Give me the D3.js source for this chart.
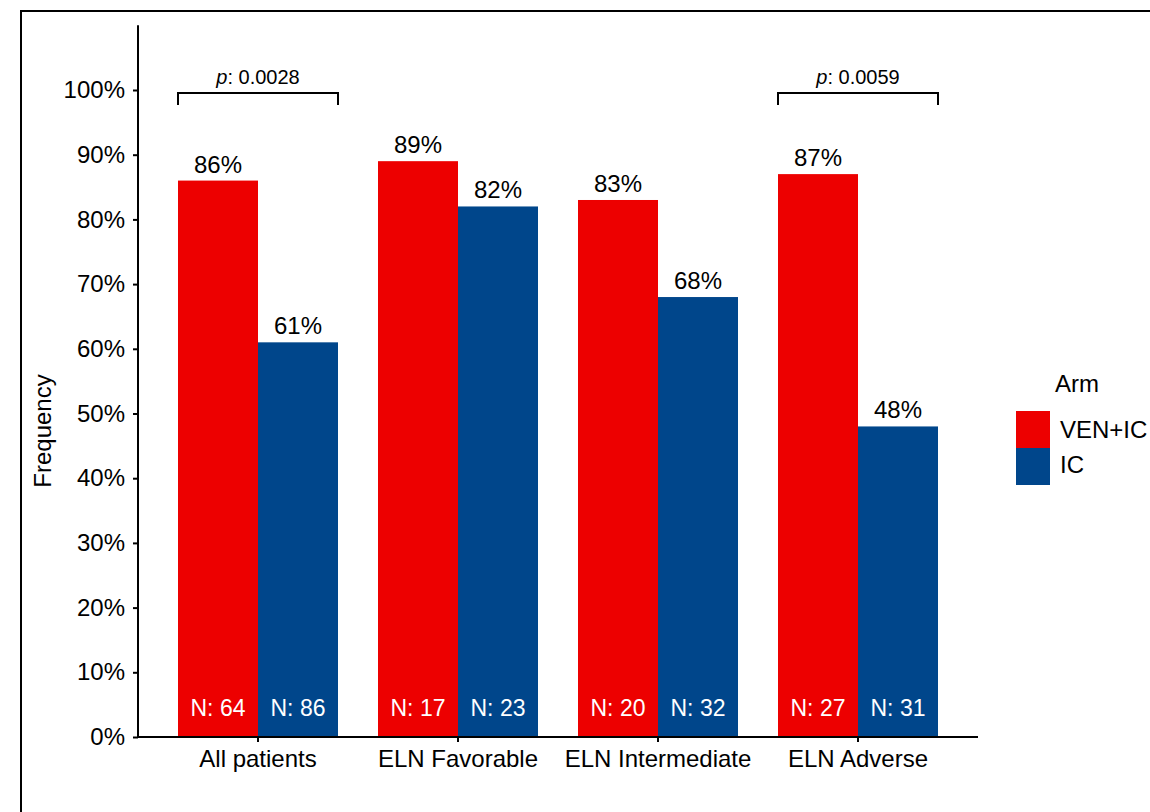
<!DOCTYPE html>
<html><head><meta charset="utf-8">
<script src="https://cdn.jsdelivr.net/npm/d3@7"></script>
<style>
body{margin:0;background:#fff;}
svg text{font-family:"Liberation Sans",Arial,Helvetica,sans-serif;fill:#000;}
</style></head>
<body>
<svg id="chart" width="1150" height="812"></svg>
<script>
const categories = ["All patients","ELN Favorable","ELN Intermediate","ELN Adverse"];
const arms = ["VEN+IC","IC"];
const venValues = [86, 89, 83, 87];
const icValues = [61, 82, 68, 48];
const venN = [64, 17, 20, 27];
const icN = [86, 23, 32, 31];
const yTicks = [0,10,20,30,40,50,60,70,80,90,100];
const pLabels = [{cat:"All patients", p:"0.0028"},{cat:"ELN Adverse", p:"0.0059"}];
const colors = ["#ED0000","#00468B"];

const data = categories.map((c,i)=>[
  {cat:c, arm:arms[0], v:venValues[i], n:venN[i]},
  {cat:c, arm:arms[1], v:icValues[i], n:icN[i]}
]).flat();

const svg = d3.select("#chart");
// frame
svg.append("path").attr("d","M21,812 L21,11 L1150,11").attr("fill","none").attr("stroke","#000").attr("stroke-width",2);

const x0 = 138, x1 = 978, yBottom = 737;
const y = d3.scaleLinear().domain([0,100]).range([yBottom, 90]);
const yTop = y(110);
const xBand = d3.scaleBand().domain(categories).range([x0, x1]).paddingOuter(0.2).paddingInner(0.2);
const xArm = d3.scaleBand().domain(arms).range([0, xBand.bandwidth()]);

// bars
svg.append("g").selectAll("rect").data(data).join("rect")
  .attr("x", d=>xBand(d.cat)+xArm(d.arm))
  .attr("y", d=>y(d.v))
  .attr("width", xArm.bandwidth())
  .attr("height", d=>yBottom - y(d.v))
  .attr("fill", d=>colors[arms.indexOf(d.arm)]);

// value labels
svg.append("g").selectAll("text").data(data).join("text")
  .attr("x", d=>xBand(d.cat)+xArm(d.arm)+xArm.bandwidth()/2)
  .attr("y", d=>y(d.v)-8)
  .attr("text-anchor","middle")
  .style("font-size","24px")
  .text(d=>d.v+"%");

// N labels
svg.append("g").selectAll("text").data(data).join("text")
  .attr("x", d=>xBand(d.cat)+xArm(d.arm)+xArm.bandwidth()/2)
  .attr("y", 716)
  .attr("text-anchor","middle")
  .style("font-size","23px")
  .style("fill","#fff")
  .text(d=>"N: "+d.n);

// y axis
const yAxis = d3.axisLeft(y).tickValues(yTicks).tickFormat(d=>d+"%").tickSize(5).tickPadding(8);
const gy = svg.append("g").attr("transform",`translate(${x0},0)`).call(yAxis);
gy.select(".domain").attr("d",`M0,${yTop}V${yBottom}`).attr("stroke","#000").attr("stroke-width",2);
gy.selectAll(".tick line").attr("stroke","#000").attr("stroke-width",2);
gy.selectAll(".tick text").style("font-size","24px").attr("fill","#000");

// x axis
const xAxis = d3.axisBottom(xBand).tickSize(5).tickPadding(8);
const gx = svg.append("g").attr("transform",`translate(0,${yBottom})`).call(xAxis);
gx.select(".domain").attr("d",`M${x0},0H${x1}`).attr("stroke","#000").attr("stroke-width",2);
gx.selectAll(".tick line").attr("stroke","#000").attr("stroke-width",2);
gx.selectAll(".tick text").style("font-size","24px").attr("fill","#000");

// y title
svg.append("text").attr("transform",`translate(51,431) rotate(-90)`)
  .attr("text-anchor","middle").style("font-size","24px").text("Frequency");

// p brackets
const br = svg.append("g");
pLabels.forEach(pl=>{
  const xl = xBand(pl.cat), xr = xBand(pl.cat)+xBand.bandwidth();
  br.append("path").attr("d",`M${xl},105V93H${xr}V105`).attr("fill","none").attr("stroke","#000").attr("stroke-width",2);
  const t = br.append("text").attr("x",(xl+xr)/2).attr("y",84).attr("text-anchor","middle").style("font-size","20px");
  t.append("tspan").style("font-style","italic").text("p");
  t.append("tspan").text(": "+pl.p);
});

// legend
const lg = svg.append("g");
lg.append("text").attr("x",1055).attr("y",392).style("font-size","24px").text("Arm");
arms.forEach((a,i)=>{
  lg.append("rect").attr("x",1016).attr("y",411+i*37).attr("width",34).attr("height",37).attr("fill",colors[i]);
  lg.append("text").attr("x",1060).attr("y",438+i*35).style("font-size","24px").text(a);
});
</script>
</body></html>
